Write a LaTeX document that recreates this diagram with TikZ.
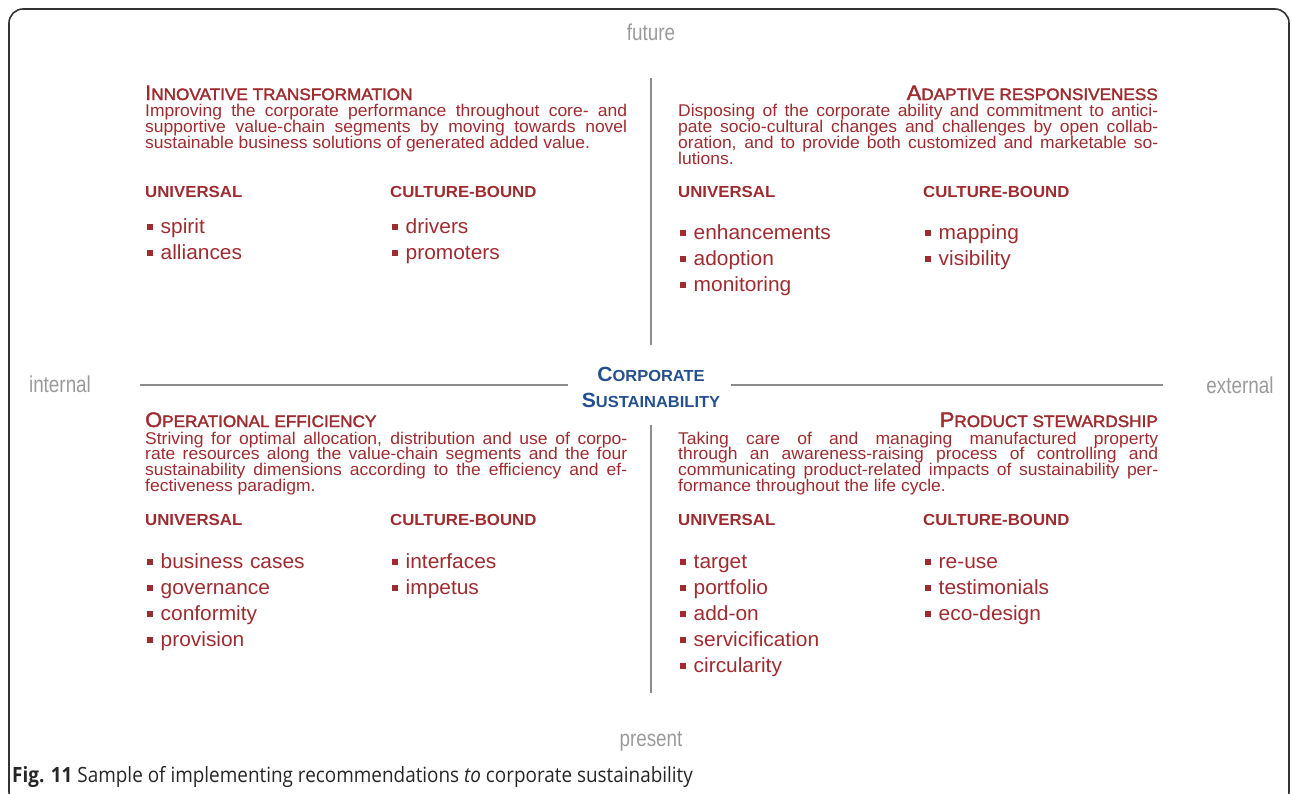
\documentclass[tikz,border=0pt]{standalone}
\usepackage{fontspec}
\setmainfont{Liberation Sans}
\newfontfamily\descfont[FakeStretch=1.03]{Liberation Sans}
\newfontfamily\itemfont[FakeStretch=1.02]{Liberation Sans}
\newfontfamily\headfont[FakeStretch=1.04,FakeBold=2]{Liberation Sans}
\newfontfamily\corpfont[FakeStretch=1.03]{Liberation Sans}
\newfontfamily\colfont[FakeStretch=1.05]{Liberation Sans}
\newfontfamily\narrowfont[FakeStretch=0.82]{Liberation Sans}
\newfontfamily\captionfont[FakeStretch=0.9]{Open Sans}
\usetikzlibrary{positioning}
\definecolor{darkred}{HTML}{9E2B2F}
\definecolor{corpblue}{HTML}{24508F}
\definecolor{axisgray}{HTML}{8C8C8C}
\definecolor{labelgray}{HTML}{9A9A9A}
\definecolor{framegray}{HTML}{333333}
\tolerance=10000 \hbadness=10000

\newcommand{\qcap}[2]{{\fontsize{21}{21}\selectfont #1}{\fontsize{16.5}{16.5}\selectfont #2}}
\newcommand{\ccap}[2]{{\fontsize{20.5}{20.5}\selectfont #1}{\fontsize{16}{16}\selectfont #2}}
\newcommand{\bul}{\raisebox{3.5pt}{\rule{5.5pt}{5.5pt}}\hspace{8pt}}

\tikzstyle{axislabel}=[anchor=base, inner sep=0, text=labelgray, font=\narrowfont\fontsize{23}{23}\selectfont]
\tikzstyle{axisline}=[draw=axisgray, line width=1.6pt]
\tikzstyle{quadtitle}=[inner sep=0, text=darkred, font=\headfont]
\tikzstyle{quaddesc}=[anchor=base west, inner sep=0, text=darkred, align=justify, font=\descfont\fontsize{17}{15.9}\selectfont]
\tikzstyle{colhead}=[anchor=base west, inner sep=0, text=darkred, font=\colfont\bfseries\fontsize{16}{16}\selectfont]
\tikzstyle{itemlist}=[anchor=base west, inner sep=0, text=darkred, text width=230pt, align=left, font=\itemfont\fontsize{20.5}{26}\selectfont]
\tikzstyle{corp}=[anchor=base, inner sep=0, text=corpblue, font=\corpfont\bfseries]

\begin{document}
\begin{tikzpicture}[x=1pt,y=-1pt]
\useasboundingbox (0,0) rectangle (1292,793);
\draw[framegray, line width=1.6pt, rounded corners=14pt] (9,9) rectangle (1289,806);
% axes
\node[axislabel] (future)   at (651,40)  {future};
\node[axislabel] (present)  at (651,746) {present};
\node[axislabel] (internal) at (60,392)  {internal};
\node[axislabel] (external) at (1240,393) {external};
\coordinate (v_top)  at (651,78);
\coordinate (v_cut1) at (651,345);
\coordinate (v_cut2) at (651,425);
\coordinate (v_bot)  at (651,693);
\coordinate (h_left)  at (140,385);
\coordinate (h_cut1)  at (568,385);
\coordinate (h_cut2)  at (731,385);
\coordinate (h_right) at (1163,385);
\draw[axisline] (v_top) -- (v_cut1);
\draw[axisline] (v_cut2) -- (v_bot);
\draw[axisline] (h_left) -- (h_cut1);
\draw[axisline] (h_cut2) -- (h_right);
\node[corp] (cs_top) at (651,381) {\ccap{C}{ORPORATE}};
\node[corp] (cs_bot) at (651,407) {\ccap{S}{USTAINABILITY}};
% 1st quadrant
\node[quadtitle, anchor=base west] (it_title) at (145,100) {\qcap{I}{NNOVATIVE TRANSFORMATION}};
\node[quaddesc, text width=482pt] (it_desc) at (145,116.5) {Improving the corporate performance throughout core- and\linebreak supportive value-chain segments by moving towards novel\linebreak sustainable business solutions of generated added value.};
\node[colhead] (it_uni) at (145,197) {UNIVERSAL};
\node[colhead] (it_cul) at (390,197) {CULTURE-BOUND};
\node[itemlist] (it_uni_items) at (147,233) {\bul spirit\\ \bul alliances};
\node[itemlist] (it_cul_items) at (392,233) {\bul drivers\\ \bul promoters};
% 2nd quadrant
\node[quadtitle, anchor=base east] (ar_title) at (1158,100) {\qcap{A}{DAPTIVE RESPONSIVENESS}};
\node[quaddesc, text width=480pt] (ar_desc) at (678,116.5) {Disposing of the corporate ability and commitment to antici-\linebreak pate socio-cultural changes and challenges by open collab-\linebreak oration, and to provide both customized and marketable so-\linebreak lutions.};
\node[colhead] (ar_uni) at (678,197) {UNIVERSAL};
\node[colhead] (ar_cul) at (923,197) {CULTURE-BOUND};
\node[itemlist] (ar_uni_items) at (680,239) {\bul enhancements\\ \bul adoption\\ \bul monitoring};
\node[itemlist] (ar_cul_items) at (925,239) {\bul mapping\\ \bul visibility};
% 3rd quadrant
\node[quadtitle, anchor=base west] (oe_title) at (145,427) {\qcap{O}{PERATIONAL EFFICIENCY}};
\node[quaddesc, text width=482pt] (oe_desc) at (145,444) {Striving for optimal allocation, distribution and use of corpo-\linebreak rate resources along the value-chain segments and the four\linebreak sustainability dimensions according to the efficiency and ef-\linebreak fectiveness paradigm.};
\node[colhead] (oe_uni) at (145,525) {UNIVERSAL};
\node[colhead] (oe_cul) at (390,525) {CULTURE-BOUND};
\node[itemlist] (oe_uni_items) at (147,568) {\bul business cases\\ \bul governance\\ \bul conformity\\ \bul provision};
\node[itemlist] (oe_cul_items) at (392,568) {\bul interfaces\\ \bul impetus};
% 4th quadrant
\node[quadtitle, anchor=base east] (ps_title) at (1158,427) {\qcap{P}{RODUCT STEWARDSHIP}};
\node[quaddesc, text width=480pt] (ps_desc) at (678,444) {Taking care of and managing manufactured property\linebreak through an awareness-raising process of controlling and\linebreak communicating product-related impacts of sustainability per-\linebreak formance throughout the life cycle.};
\node[colhead] (ps_uni) at (678,525) {UNIVERSAL};
\node[colhead] (ps_cul) at (923,525) {CULTURE-BOUND};
\node[itemlist] (ps_uni_items) at (680,568) {\bul target\\ \bul portfolio\\ \bul add-on\\ \bul servicification\\ \bul circularity};
\node[itemlist] (ps_cul_items) at (925,568) {\bul re-use\\ \bul testimonials\\ \bul eco-design};
% caption
\node[anchor=base west, inner sep=0, text=black!85, font=\captionfont\fontsize{21}{21}\selectfont] (caption) at (12,782) {\textbf{Fig. 11} Sample of implementing recommendations \textit{to} corporate sustainability};
\end{tikzpicture}
\end{document}
